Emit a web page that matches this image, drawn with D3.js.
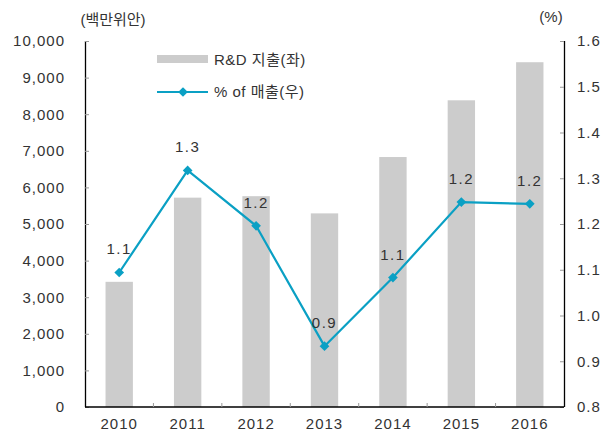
<!DOCTYPE html>
<html>
<head>
<meta charset="utf-8">
<script src="https://cdn.jsdelivr.net/npm/d3@7"></script>
<style>
  body { margin: 0; background: #fff; }
  svg text { font-family: "Liberation Sans", "Noto Sans CJK KR", sans-serif; fill: #333; }
</style>
</head>
<body>
<div id="chart"></div>
<script>
// data
const years = ['2010', '2011', '2012', '2013', '2014', '2015', '2016'];
const rdSpend = [3420, 5720, 5760, 5290, 6830, 8380, 9420];       // 백만위안
const pctSales = [1.094, 1.317, 1.196, 0.933, 1.083, 1.248, 1.244]; // %
const pctLabels = ['1.1', '1.3', '1.2', '0.9', '1.1', '1.2', '1.2'];
const leftTicks = [0, 1000, 2000, 3000, 4000, 5000, 6000, 7000, 8000, 9000, 10000];
const rightTicks = [0.8, 0.9, 1.0, 1.1, 1.2, 1.3, 1.4, 1.5, 1.6];

const width = 609, height = 432;
const margin = { top: 41, right: 45, bottom: 25, left: 85 };
const w = width - margin.left - margin.right;
const h = height - margin.top - margin.bottom;
const barColor = '#cccccc';
const lineColor = '#0aa0c4';

const svg = d3.select('#chart').append('svg')
  .attr('width', width).attr('height', height);
const g = svg.append('g').attr('transform', `translate(${margin.left},${margin.top})`);

const x = d3.scaleBand().domain(years).range([0, w]).paddingInner(0).paddingOuter(0);
const yL = d3.scaleLinear().domain([0, 10000]).range([h, 0]);
const yR = d3.scaleLinear().domain([0.8, 1.6]).range([h, 0]);
const barW = x.bandwidth() * 0.4;

// bars
g.selectAll('.bar').data(rdSpend).enter().append('rect')
  .attr('class', 'bar')
  .attr('x', (d, i) => x(years[i]) + (x.bandwidth() - barW) / 2)
  .attr('y', d => yL(d))
  .attr('width', barW)
  .attr('height', d => h - yL(d))
  .attr('fill', barColor);

// axes
const fmt = d3.format(',');
const axL = g.append('g')
  .call(d3.axisLeft(yL).tickValues(leftTicks).tickFormat(fmt).tickSize(-4).tickPadding(20));
const axR = g.append('g').attr('transform', `translate(${w},0)`)
  .call(d3.axisRight(yR).tickValues(rightTicks).tickFormat(d3.format('.1f')).tickSize(-4).tickPadding(13));
const axX = g.append('g').attr('transform', `translate(0,${h})`)
  .call(d3.axisBottom(x).tickSize(0).tickPadding(11));

[axL, axR, axX].forEach(a => {
  a.select('.domain').attr('stroke', '#000').attr('stroke-width', 1.3);
  a.selectAll('.tick line').attr('stroke', '#999');
  a.selectAll('text').style('font-size', '15px').style('letter-spacing', '1px').attr('fill', '#333');
});
axL.select('.domain').attr('d', `M0.5,0V${h}`);
axR.select('.domain').attr('d', `M0.5,0V${h}`);
axX.select('.domain').attr('d', `M0,0H${w}`);

// category boundary ticks on x axis
g.append('g').selectAll('line').data(years.slice(1)).enter().append('line')
  .attr('x1', d => x(d)).attr('x2', d => x(d))
  .attr('y1', h).attr('y2', h - 4)
  .attr('stroke', '#999');

// line
const line = d3.line()
  .x((d, i) => x(years[i]) + x.bandwidth() / 2)
  .y(d => yR(d));
g.append('path').datum(pctSales)
  .attr('d', line)
  .attr('fill', 'none')
  .attr('stroke', lineColor)
  .attr('stroke-width', 2.2);

const diamond = d3.symbol().type(d3.symbolDiamond2).size(60);
g.selectAll('.pt').data(pctSales).enter().append('path')
  .attr('class', 'pt')
  .attr('transform', (d, i) => `translate(${x(years[i]) + x.bandwidth() / 2},${yR(d)})`)
  .attr('d', diamond)
  .attr('fill', lineColor);

g.selectAll('.lbl').data(pctSales).enter().append('text')
  .attr('class', 'lbl')
  .attr('x', (d, i) => x(years[i]) + x.bandwidth() / 2)
  .attr('y', d => yR(d) - 18)
  .attr('text-anchor', 'middle')
  .style('font-size', '15px')
  .style('letter-spacing', '1.5px')
  .text((d, i) => pctLabels[i]);

// unit labels
svg.append('text').attr('x', 113).attr('y', 25).attr('text-anchor', 'middle')
  .style('font-size', '15px').text('(백만위안)');
svg.append('text').attr('x', 551).attr('y', 22).attr('text-anchor', 'middle')
  .style('font-size', '15px').text('(%)');

// legend
const lg = svg.append('g');
lg.append('rect').attr('x', 157).attr('y', 55).attr('width', 51).attr('height', 8).attr('fill', barColor);
lg.append('text').attr('x', 214).attr('y', 65).style('font-size', '15px').style('letter-spacing', '0.5px').text('R&D 지출(좌)');
lg.append('line').attr('x1', 157).attr('x2', 208).attr('y1', 92).attr('y2', 92)
  .attr('stroke', lineColor).attr('stroke-width', 2.2);
lg.append('path').attr('transform', 'translate(183,92)').attr('d', diamond).attr('fill', lineColor);
lg.append('text').attr('x', 214).attr('y', 97).style('font-size', '15px').style('letter-spacing', '0.5px').text('% of 매출(우)');
</script>
</body>
</html>
